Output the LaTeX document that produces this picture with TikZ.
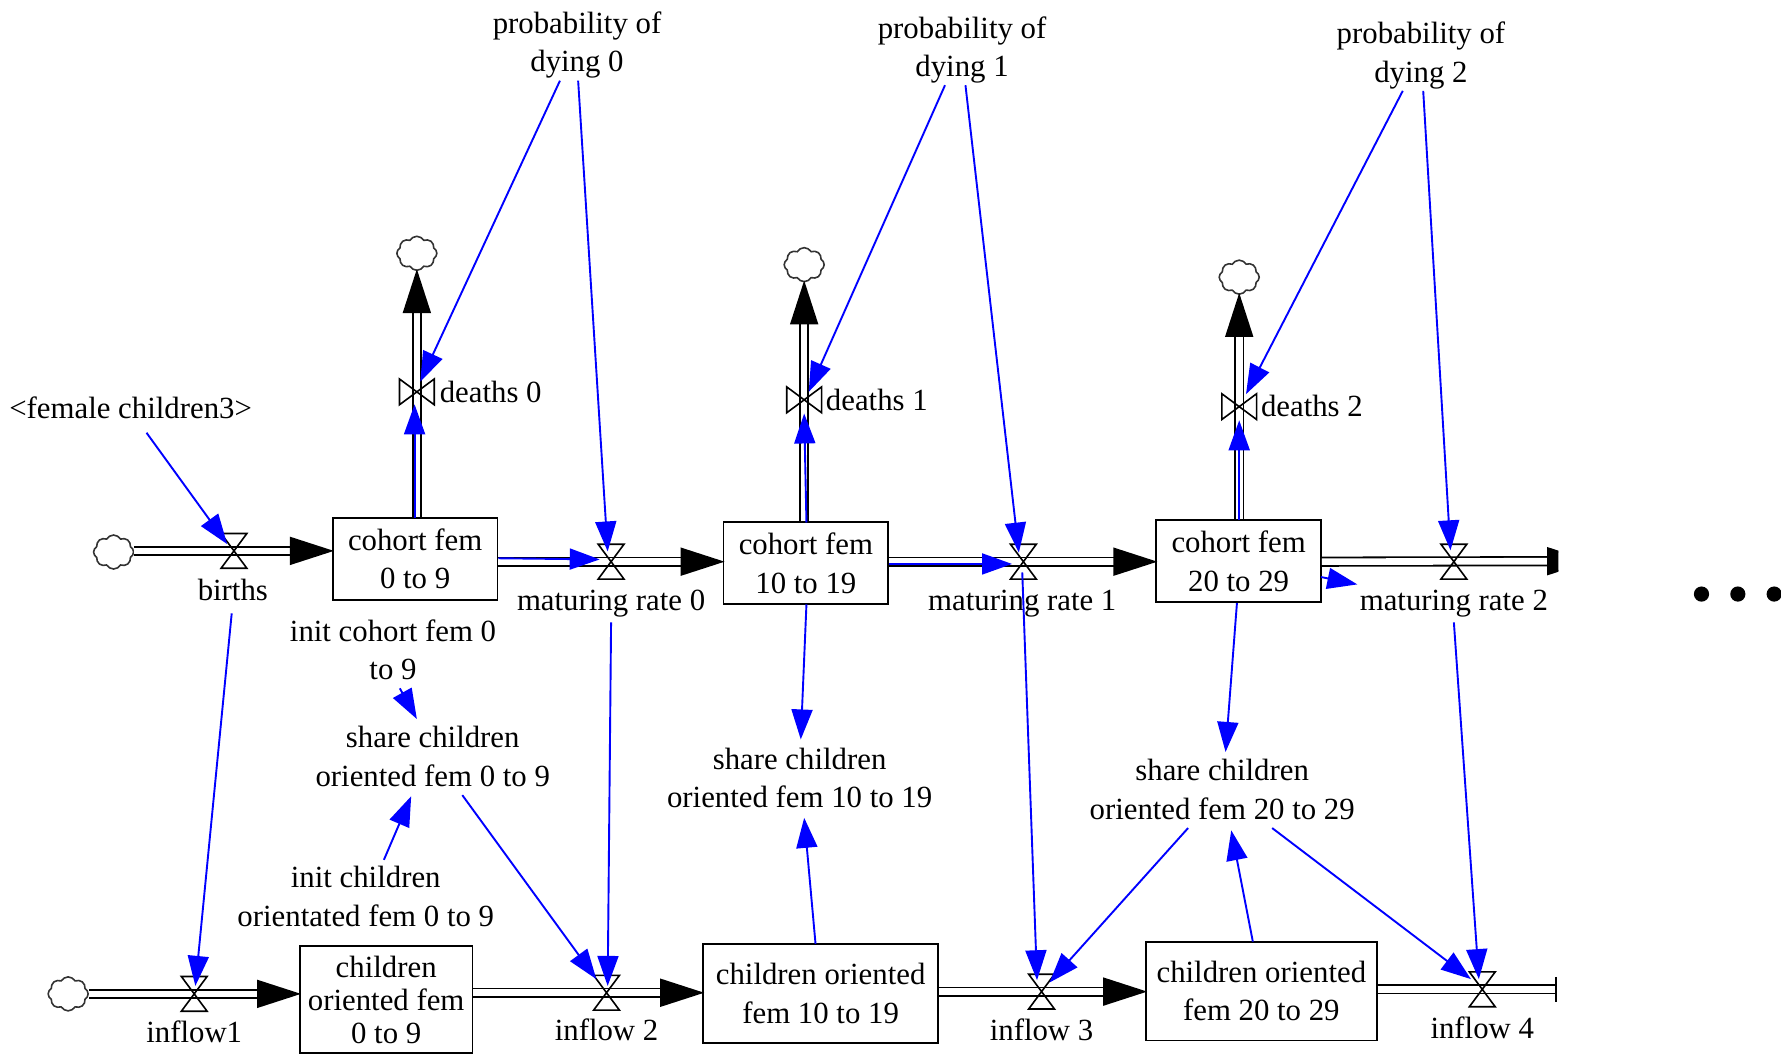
\documentclass[tikz,border=0pt]{standalone}
\usepackage{fontspec}
\setmainfont{Liberation Serif}
\usetikzlibrary{arrows.meta,shapes.symbols}

\tikzset{
    lbl/.style={align=center, inner sep=0pt, font=\fontsize{15.4}{19.3}\selectfont},
    stock/.style={draw, line width=0.9pt, align=center, inner sep=0pt, fill=white, font=\fontsize{15.4}{19.3}\selectfont},
    valvehbox/.style={inner sep=0pt, minimum width=12.5pt, minimum height=17pt},
    valvevbox/.style={inner sep=0pt, minimum width=17pt, minimum height=12.5pt},
    cloudy/.style={draw=black!80, line width=0.8pt, cloud, cloud puffs=8, cloud puff arc=120, aspect=1.2, inner sep=0pt, minimum width=20pt, minimum height=17pt},
    pipe/.style={line width=0.9pt, double, double distance=3.3pt, shorten >=-1pt, -{Triangle[length=22pt,width=14pt]}},
    pipeend/.style={line width=0.9pt, double, double distance=3.3pt},
    link/.style={blue, line width=0.95pt, -{Triangle[length=15pt,width=10.5pt]}},
    dotnode/.style={circle, fill=black, inner sep=0pt, minimum size=7.6pt}
}

\begin{document}
\begin{tikzpicture}[x=0.568pt, y=-0.568pt]

    \useasboundingbox (0,0) rectangle (1568,931);

    % Stocks, upper row
    \node[stock, minimum width=82.4pt, minimum height=41pt] (cohort0) at (365.5,492) {cohort fem\\0 to 9};
    \node[stock, minimum width=82.4pt, minimum height=41pt] (cohort1) at (709.5,496) {cohort fem\\10 to 19};
    \node[stock, minimum width=82.4pt, minimum height=41pt] (cohort2) at (1090.5,494) {cohort fem\\20 to 29};

    % Stocks, lower row
    \node[stock, minimum width=86.3pt, minimum height=53.4pt, font=\fontsize{15.4}{16.5}\selectfont] (child0) at (340,880) {children\\oriented fem\\0 to 9};
    \node[stock, minimum width=117.6pt, minimum height=49.4pt] (child1) at (722.5,874.5) {children oriented\\fem 10 to 19};
    \node[stock, minimum width=115.3pt, minimum height=49.4pt] (child2) at (1110.5,872.5) {children oriented\\fem 20 to 29};

    % Clouds
    \node[cloudy] (cloudin) at (100,486) {};
    \node[cloudy] (cloudlow) at (60,875) {};
    \node[cloudy] (cloud0) at (367,223) {};
    \node[cloudy] (cloud1) at (708,233) {};
    \node[cloudy] (cloud2) at (1091,244) {};

    % Free ends
    \coordinate (endtop) at (1399,494);
    \coordinate (endlow) at (1370,871);

    % Texts
    \node[lbl] (female) at (115,359) {<female children3>};
    \node[lbl] (dying0) at (508,39.5) {probability of\\dying 0};
    \node[lbl] (dying1) at (847,44) {probability of\\dying 1};
    \node[lbl] (dying2) at (1251,49) {probability of\\dying 2};
    \node[lbl] (initcohort) at (346,572) {init cohort fem 0\\to 9};
    \node[lbl] (share0) at (381,666) {share children\\oriented fem 0 to 9};
    \node[lbl] (share1) at (704,685) {share children\\oriented fem 10 to 19};
    \node[lbl] (share2) at (1076,695) {share children\\oriented fem 20 to 29};
    \node[lbl] (initchild) at (322,789) {init children\\orientated fem 0 to 9};

    % Flow names
    \node[lbl] (births) at (205,519) {births};
    \node[lbl] (mat0) at (538,531) {maturing rate 0};
    \node[lbl] (mat1) at (900,531) {maturing rate 1};
    \node[lbl] (mat2) at (1280,531) {maturing rate 2};
    \node[lbl] (deaths0) at (432,345) {deaths 0};
    \node[lbl] (deaths1) at (772,352) {deaths 1};
    \node[lbl] (deaths2) at (1155,357) {deaths 2};
    \node[lbl] (in1) at (171,908) {inflow1};
    \node[lbl] (in2) at (534,907) {inflow 2};
    \node[lbl] (in3) at (917,907) {inflow 3};
    \node[lbl] (in4) at (1305,905) {inflow 4};

    % Valves
    \foreach \v/\px/\py in {vbirths/206/485, vmat0/538/494.5, vmat1/901/494.5, vmat2/1280/494.5, vin1/171/875, vin2/534/874, vin3/917/873, vin4/1305/871} {
        \node[valvehbox] (\v) at (\px,\py) {};
    }
    \foreach \v/\px/\py in {vdeaths0/367/345, vdeaths1/708/352, vdeaths2/1091/358} {
        \node[valvevbox] (\v) at (\px,\py) {};
    }

    % Link hidden by the pipe above it
    \draw[link] ([shift={(72.5,14)}]cohort2.center) -- ([shift={(-85,20)}]vmat2.center);

    % Pipes
    \draw[pipe] (cloudin.east |- vbirths) -- (cohort0.west |- vbirths);
    \draw[pipe] (cohort0.east |- vmat0) -- (cohort1.west |- vmat0);
    \draw[pipe] (cohort1.east |- vmat1) -- (cohort2.west |- vmat1);
    \begin{scope}
        \clip (1100,400) rectangle (1372,600);
        \draw[pipe] (cohort2.east |- vmat2) -- (endtop);
    \end{scope}
    \draw[pipe] (cloudlow.east |- vin1) -- (child0.west |- vin1);
    \draw[pipe] (child0.east |- vin2) -- (child1.west |- vin2);
    \draw[pipe] (child1.east |- vin3) -- (child2.west |- vin3);
    \draw[pipeend] (child2.east |- vin4) -- (endlow);
    \draw[line width=1.3pt] ([shift={(0,-11)}]endlow) -- ([shift={(0,11)}]endlow);
    \draw[pipe] (cohort0.north -| vdeaths0) -- (cloud0.south);
    \draw[pipe] (cohort1.north -| vdeaths1) -- (cloud1.south);
    \draw[pipe] (cohort2.north -| vdeaths2) -- (cloud2.south);

    % Valve outlines
    \foreach \v in {vbirths,vmat0,vmat1,vmat2,vin1,vin2,vin3,vin4} {
        \draw[line width=0.8pt] (\v.north west) -- (\v.south east) -- (\v.south west) -- (\v.north east) -- cycle;
    }
    \foreach \v in {vdeaths0,vdeaths1,vdeaths2} {
        \draw[line width=0.8pt] (\v.north west) -- (\v.south east) -- (\v.north east) -- (\v.south west) -- cycle;
    }

    % Links from the top row
    \draw[link] ([shift={(14,22)}]female.center) -- ([shift={(-6,-6)}]vbirths.center);
    \draw[link] ([shift={(-15,31.5)}]dying0.center) -- ([shift={(3,-9)}]vdeaths0.center);
    \draw[link] ([shift={(1,31.5)}]dying0.center) -- ([shift={(-3,-9)}]vmat0.center);
    \draw[link] ([shift={(-15,31)}]dying1.center) -- ([shift={(4,-7)}]vdeaths1.center);
    \draw[link] ([shift={(3,31)}]dying1.center) -- ([shift={(-4,-8)}]vmat1.center);
    \draw[link] ([shift={(-16,31)}]dying2.center) -- ([shift={(6,-11)}]vdeaths2.center);
    \draw[link] ([shift={(2,31)}]dying2.center) -- ([shift={(-3,-10)}]vmat2.center);

    % Links from the stocks
    \draw[link] ([shift={(-0.5,-36)}]cohort0.center) -- ([shift={(-2,11)}]vdeaths0.center);
    \draw[link] (cohort0.east |- 0,491.5) -- ([shift={(-10,-2)}]vmat0.center);
    \draw[link] ([shift={(0.5,-36)}]cohort1.center) -- ([shift={(0,12)}]vdeaths1.center);
    \draw[link] (cohort1.east |- 0,496.5) -- ([shift={(-10,2)}]vmat1.center);
    \draw[link] ([shift={(0.5,-36)}]cohort2.center) -- ([shift={(0,12)}]vdeaths2.center);

    % Links to the lower row
    \draw[link] ([shift={(-1,21)}]births.center) -- ([shift={(1,-7)}]vin1.center);
    \draw[link] ([shift={(0,17)}]mat0.center) -- ([shift={(1,-6)}]vin2.center);
    \draw[link] ([shift={(-1,9.5)}]vmat1.center) -- ([shift={(-4,-10)}]vin3.center);
    \draw[link] ([shift={(0,17)}]mat2.center) -- ([shift={(-3,-9)}]vin4.center);

    % Links around the shares
    \draw[link] ([shift={(6,34)}]initcohort.center) -- ([shift={(-14,-33)}]share0.center);
    \draw[link] ([shift={(16,-32)}]initchild.center) -- ([shift={(-19,35)}]share0.center);
    \draw[link] ([shift={(26,34)}]share0.center) -- ([shift={(-9,-12)}]vin2.center);
    \draw[link] ([shift={(0.5,36)}]cohort1.center) -- ([shift={(1,-34)}]share1.center);
    \draw[link] ([shift={(-4.5,-43.5)}]child1.center) -- ([shift={(4,35)}]share1.center);
    \draw[link] ([shift={(-1.5,37)}]cohort2.center) -- ([shift={(3,-33)}]share2.center);
    \draw[link] ([shift={(-7.5,-43.5)}]child2.center) -- ([shift={(8,36)}]share2.center);
    \draw[link] ([shift={(-30,34)}]share2.center) -- ([shift={(7,-8)}]vin3.center);
    \draw[link] ([shift={(44,34)}]share2.center) -- ([shift={(-10,-9)}]vin4.center);

    % Continuation dots
    \node[dotnode] (dota) at (1498,523) {};
    \node[dotnode] (dotb) at (1530,523) {};
    \node[dotnode] (dotc) at (1562,523) {};

\end{tikzpicture}
\end{document}
